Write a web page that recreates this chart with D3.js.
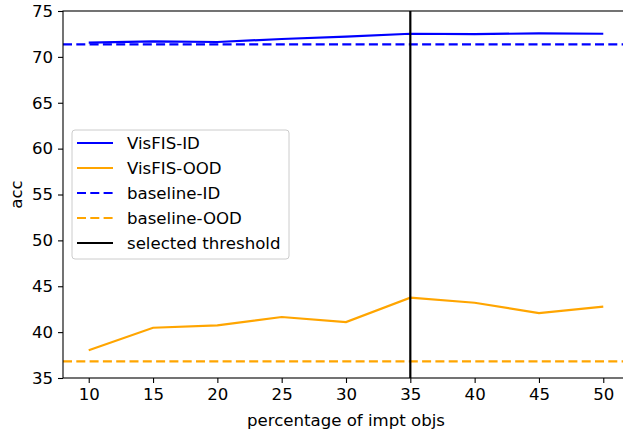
<!DOCTYPE html>
<html>
<head>
<meta charset="utf-8">
<script src="https://cdn.jsdelivr.net/npm/d3@7"></script>
<style>
  body { margin: 0; background: #fff; }
  svg { display: block; font-family: "DejaVu Sans", sans-serif; }
</style>
</head>
<body>
<div id="chart"></div>
<script>
  let thresholds = [10, 15, 20, 25, 30, 35, 40, 45, 50];
  let visfisID = [71.55, 71.68, 71.62, 71.95, 72.2, 72.52, 72.48, 72.56, 72.52];
  let visfisOOD = [38.02, 40.48, 40.74, 41.65, 41.1, 43.75, 43.2, 42.08, 42.77];
  let baselineID = 71.37;
  let baselineOOD = 36.82;
  let selected = 35;
  let yTicks = [35, 40, 45, 50, 55, 60, 65, 70, 75];
  let legendLabels = ['VisFIS-ID', 'VisFIS-OOD', 'baseline-ID', 'baseline-OOD', 'selected threshold'];

  let W = 623, H = 429;
  let margin = { top: 11, left: 63 };
  let height = 367;
  let width = 566; // right spine falls just outside the picture
  let fs = '16.6px';

  let svg = d3.select('#chart').append('svg')
    .attr('width', W)
    .attr('height', H);

  let x = d3.scaleLinear().domain([8, 52]).range([0, width]);
  let y = d3.scaleLinear().domain([35, 75]).range([height, 0]);

  let g = svg.append('g').attr('transform', `translate(${margin.left},${margin.top})`);

  g.append('clipPath').attr('id', 'clip')
    .append('rect').attr('width', width).attr('height', height);

  let plot = g.append('g').attr('clip-path', 'url(#clip)');

  let line = d3.line()
    .x((d, i) => x(thresholds[i]))
    .y((d) => y(d));

  let dash = '9,4.3';

  plot.append('line')
    .attr('x1', 0).attr('x2', width)
    .attr('y1', y(baselineID)).attr('y2', y(baselineID))
    .attr('stroke', '#0000ff').attr('stroke-width', 2.2)
    .attr('stroke-dasharray', dash);

  plot.append('line')
    .attr('x1', 0).attr('x2', width)
    .attr('y1', y(baselineOOD)).attr('y2', y(baselineOOD))
    .attr('stroke', '#ffa500').attr('stroke-width', 2.2)
    .attr('stroke-dasharray', dash);

  plot.append('path')
    .datum(visfisID)
    .attr('d', line)
    .attr('fill', 'none')
    .attr('stroke', '#0000ff')
    .attr('stroke-width', 2.2);

  plot.append('path')
    .datum(visfisOOD)
    .attr('d', line)
    .attr('fill', 'none')
    .attr('stroke', '#ffa500')
    .attr('stroke-width', 2.2);

  plot.append('line')
    .attr('x1', x(selected)).attr('x2', x(selected))
    .attr('y1', 0).attr('y2', height)
    .attr('stroke', '#000').attr('stroke-width', 2.2);

  // axes
  let xAxis = g.append('g')
    .attr('transform', `translate(0,${height})`)
    .call(d3.axisBottom(x).tickValues(thresholds).tickSize(5).tickPadding(5).tickFormat(d3.format('d')));

  let yAxis = g.append('g')
    .call(d3.axisLeft(y).tickValues(yTicks).tickSize(5).tickPadding(5).tickFormat(d3.format('d')));

  [xAxis, yAxis].forEach((a) => {
    a.select('.domain').remove();
    a.selectAll('line').attr('stroke', '#000').attr('stroke-width', 1.1);
    a.selectAll('text').attr('fill', '#000').style('font-size', fs)
      .style('font-family', '"DejaVu Sans", sans-serif');
  });

  // frame
  g.append('rect')
    .attr('width', width).attr('height', height)
    .attr('fill', 'none')
    .attr('stroke', '#000')
    .attr('stroke-width', 1.1);

  g.append('text')
    .attr('x', width / 2)
    .attr('y', height + 48)
    .attr('text-anchor', 'middle')
    .style('font-size', fs)
    .text('percentage of impt objs');

  g.append('text')
    .attr('transform', `translate(${-41},${height / 2}) rotate(-90)`)
    .attr('text-anchor', 'middle')
    .style('font-size', fs)
    .text('acc');

  // legend
  let legend = svg.append('g').attr('transform', 'translate(72,130)');
  legend.append('rect')
    .attr('width', 217).attr('height', 129)
    .attr('rx', 3)
    .attr('fill', '#fff').attr('fill-opacity', 0.8)
    .attr('stroke', '#cccccc').attr('stroke-width', 1);

  let styles = [
    { c: '#0000ff', d: null },
    { c: '#ffa500', d: null },
    { c: '#0000ff', d: dash },
    { c: '#ffa500', d: dash },
    { c: '#000', d: null }
  ];

  legendLabels.forEach((lab, i) => {
    let row = legend.append('g').attr('transform', `translate(0,${13 + i * 25})`);
    row.append('line')
      .attr('x1', 5).attr('x2', 41)
      .attr('stroke', styles[i].c)
      .attr('stroke-width', 2.2)
      .attr('stroke-dasharray', styles[i].d);
    row.append('text')
      .attr('x', 55)
      .attr('dy', '0.36em')
      .style('font-size', fs)
      .text(lab);
  });
</script>
</body>
</html>
